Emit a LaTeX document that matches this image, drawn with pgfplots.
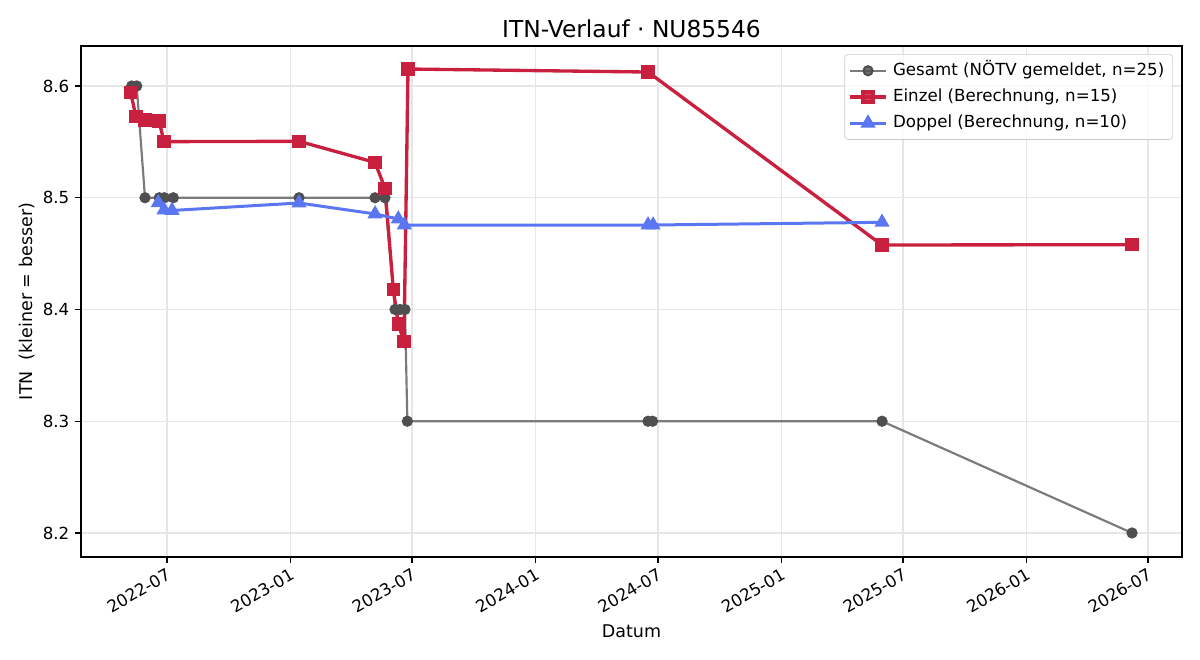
\documentclass[border=0pt]{standalone}
\usepackage{fontspec}
\setmainfont{DejaVu Sans}
\usepackage{pgfplots}
\pgfplotsset{compat=1.18}
\definecolor{cgrey}{HTML}{7B7B7B}
\definecolor{cgreym}{HTML}{4F4F4F}
\definecolor{cred}{HTML}{C8203E}
\definecolor{cblue}{HTML}{5A76F0}
\definecolor{cgrid}{HTML}{E6E6E6}
\definecolor{cframe}{HTML}{CCCCCC}
\begin{document}
\begin{tikzpicture}
\useasboundingbox (-48.6pt,-61.8pt) rectangle (671.4pt,334.2pt);
\begin{axis}[
  at={(0,0)}, anchor=south west,
  scale only axis, width=660.6pt, height=306.6pt,
  xmin=-128.1, xmax=1511.5, ymin=8.1785, ymax=8.6358,
  xtick={0,184,365,549,731,915,1096,1280,1461},
  xticklabels={2022-07,2023-01,2023-07,2024-01,2024-07,2025-01,2025-07,2026-01,2026-07},
  ytick={8.2,8.3,8.4,8.5,8.6},
  yticklabels={8.2,8.3,8.4,8.5,8.6},
  tick align=outside, tick pos=left, major tick length=3.5pt,
  grid=major, grid style={cgrid, line width=0.8pt},
  axis line style={line width=0.8pt},
  tick style={black, line width=0.8pt},
  tick label style={font=\fontsize{10}{12}\selectfont},
  xticklabel style={rotate=30, anchor=north east, inner sep=2pt},
  title={ITN-Verlauf · NU85546},
  every axis title/.style={font=\fontsize{14}{16}\selectfont, at={(axis description cs:0.5,1.0176)}, anchor=base},
  xlabel={Datum},
  xlabel style={font=\fontsize{10.5}{12}\selectfont, at={(axis description cs:0.5,-0.1585)}, anchor=base},
  ylabel={ITN\ \ (kleiner = besser)},
  every axis y label/.style={font=\fontsize{10.5}{12}\selectfont, at={(axis description cs:-0.0445,0.5)}, rotate=90, anchor=base},
  legend cell align=left,
  legend style={at={(axis description cs:0.9918,0.9843)}, anchor=north east,
    draw=cframe, rounded corners=2pt, fill=white, fill opacity=0.8, text opacity=1,
    font=\fontsize{10}{12}\selectfont, inner sep=2pt,
    nodes={text height=7.5pt, text depth=2.2pt, inner sep=3pt}},
  legend image code/.code={\draw[mark repeat=2,mark phase=2] plot coordinates {(0pt,0pt) (11pt,0pt) (22pt,0pt)};},
]
\addplot[cgrey, line width=1.3pt, mark=*, mark size=2.7pt, mark options={fill=cgreym, draw=cgreym}] coordinates {
(-52.6,8.6) (-45.1,8.6) (-32.8,8.5) (-11.5,8.5) (-4.0,8.5) (9.4,8.5) (196.6,8.5) (309.8,8.5) (324.6,8.5) (339.5,8.4) (347.0,8.4) (354.4,8.4) (357.9,8.3) (716.3,8.3) (723,8.3) (1064.8,8.3) (1437.1,8.2)
};
\addlegendentry{Gesamt (NÖTV gemeldet, n=25)}
\addplot[cred, line width=2pt, mark=square*, mark size=3pt, mark options={fill=cred, draw=cred}] coordinates {
(-54.1,8.594) (-46.2,8.5725) (-32.8,8.5696) (-11.9,8.5687) (-4.5,8.5502) (196.6,8.5505) (309.8,8.5316) (324.6,8.5084) (337,8.4180) (344.4,8.387) (352.9,8.3715) (358.9,8.6152) (716.3,8.6125) (1064.8,8.4577) (1437.1,8.4580)
};
\addlegendentry{Einzel (Berechnung, n=15)}
\addplot[cblue, line width=1.8pt, mark=triangle*, mark size=3.5pt, mark options={fill=cblue, draw=cblue}] coordinates {
(-13,8.4955) (-4.5,8.489) (7.4,8.4886) (196.6,8.4953) (309.8,8.4855) (344.4,8.481) (353.4,8.4756) (716.3,8.4756) (723.8,8.4756) (1064.8,8.4780)
};
\addlegendentry{Doppel (Berechnung, n=10)}
\end{axis}
\end{tikzpicture}
\end{document}
